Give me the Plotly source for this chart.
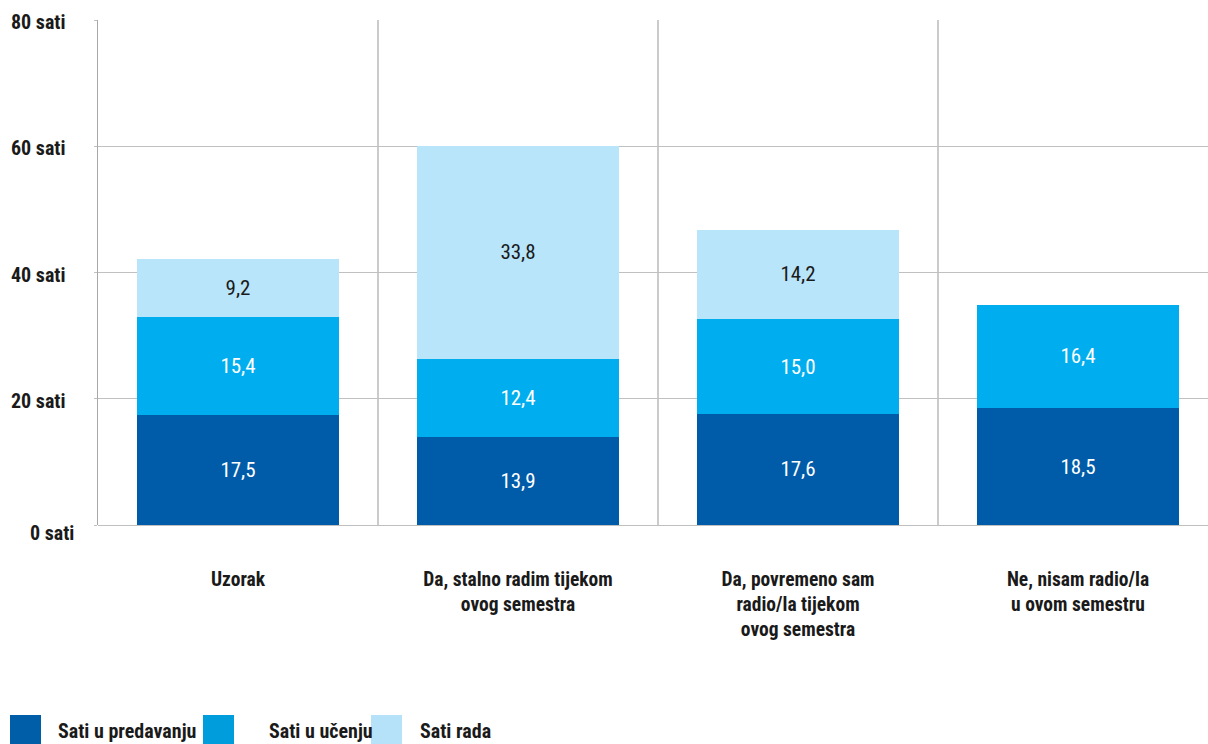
import plotly.graph_objects as go

categories = [
    "Uzorak",
    "Da, stalno radim tijekom<br>ovog semestra",
    "Da, povremeno sam<br>radio/la tijekom<br>ovog semestra",
    "Ne, nisam radio/la<br>u ovom semestru",
]
series_names = ["Sati u predavanju", "Sati u učenju", "Sati rada"]
predavanja = [17.5, 13.9, 17.6, 18.5]
ucenje = [15.4, 12.4, 15.0, 16.4]
rad = [9.2, 33.8, 14.2, None]
y_ticks = [0, 20, 40, 60, 80]
y_tick_labels = ["0 sati", "20 sati", "40 sati", "60 sati", "80 sati"]

bar_colors = ["#005CA9", "#00AEEF", "#B9E5FA"]
legend_colors = ["#005DA8", "#009DDC", "#B5E2F9"]
text_colors = ["white", "white", "#1a1a1a"]

FONT = "Roboto Condensed, DejaVu Sans Condensed, sans-serif"

x_idx = list(range(len(categories)))
fig = go.Figure()
for name, vals, col, tcol in zip(series_names, [predavanja, ucenje, rad], bar_colors, text_colors):
    fig.add_trace(go.Bar(
        x=x_idx, y=vals, name=name, marker=dict(color=col, line=dict(width=0)),
        width=0.72, texttemplate="%{y:.1f}", textposition="inside",
        insidetextanchor="middle",
        textfont=dict(family=FONT, size=21, color=tcol),
        showlegend=False, hoverinfo="skip",
    ))

shapes = []
for b in [0.5, 1.5, 2.5]:
    shapes.append(dict(type="line", xref="x", yref="y", x0=b, x1=b, y0=0, y1=80,
                       line=dict(color="#a8a8a8", width=1.2), layer="below"))

W, H = 1208, 744
PL, PT, PB = 98, 20, 525
annotations = []

# y-axis labels
for v, lab in zip(y_ticks, y_tick_labels):
    zero = (v == 0)
    annotations.append(dict(xref="paper", yref="y", x=(76 - PL) / (W - PL) if zero else (68 - PL) / (W - PL),
                            y=v, xanchor="right", yanchor="middle", showarrow=False,
                            yshift=-8 if zero else -2,
                            text="<b>%s</b>" % lab,
                            font=dict(family=FONT, size=20, color="#1a1a1a")))

# legend drawn manually (big squares)
legend_sq_x = [10, 203, 371]
legend_txt_x = [56, 267, 418]
for name, col, sx, tx in zip(series_names, legend_colors, legend_sq_x, legend_txt_x):
    shapes.append(dict(type="rect", xref="paper", yref="paper",
                       x0=(sx - PL) / (W - PL), x1=(sx + 31 - PL) / (W - PL),
                       y0=(PB - 744) / (PB - PT), y1=(PB - 715) / (PB - PT),
                       fillcolor=col, line=dict(width=0)))
    annotations.append(dict(xref="paper", yref="paper", x=(tx - PL) / (W - PL),
                            y=(PB - 731) / (PB - PT), xanchor="left", yanchor="middle",
                            text="<b>%s</b>" % name, showarrow=False,
                            font=dict(family=FONT, size=20, color="#1a1a1a")))

fig.update_layout(
    width=W, height=H,
    margin=dict(l=PL, r=0, t=PT, b=H - PB, autoexpand=False),
    barmode="stack",
    separators=",.",
    plot_bgcolor="white", paper_bgcolor="white",
    font=dict(family=FONT, color="#1a1a1a"),
    shapes=shapes, annotations=annotations,
    xaxis=dict(
        tickmode="array", tickvals=x_idx, ticktext=["<b>%s</b>" % c for c in categories],
        range=[-0.5, -0.5 + (W - PL) / 280.0],
        showgrid=False, zeroline=False, showline=False, ticks="",
        tickfont=dict(family=FONT, size=19.5, color="#1a1a1a"),
        ticklabelstandoff=40, fixedrange=True, automargin=False,
    ),
    yaxis=dict(
        range=[0, 80], tickmode="array", tickvals=y_ticks,
        showticklabels=False,
        showgrid=True, gridcolor="#c0c0c0", gridwidth=1,
        zeroline=True, zerolinecolor="#c0c0c0", zerolinewidth=1,
        showline=True, linecolor="#a8a8a8", linewidth=1.2,
        ticks="outside", ticklen=3, tickcolor="#c0c0c0",
        fixedrange=True, automargin=False,
    ),
)

fig.write_html("out.html", config={"displayModeBar": False},
               post_script="document.body.style.margin='0';")
